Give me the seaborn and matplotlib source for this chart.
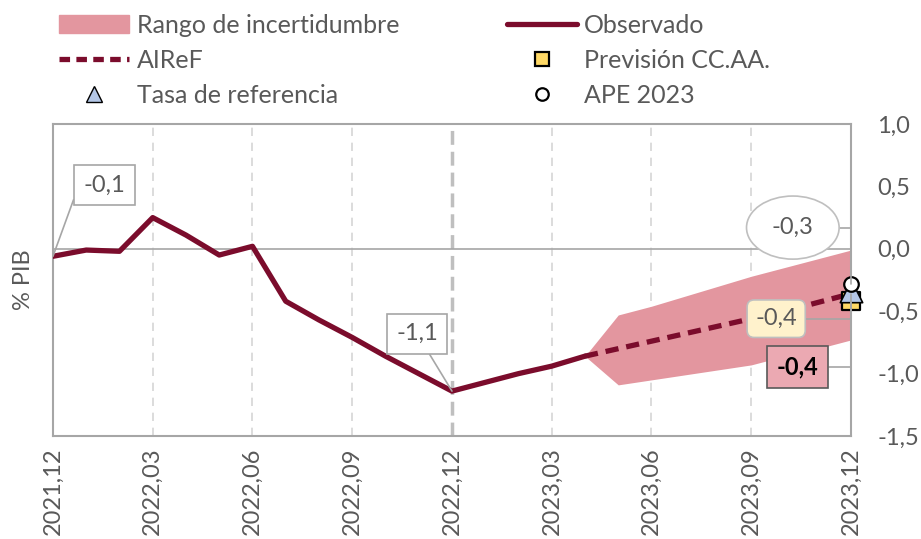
import matplotlib
matplotlib.use("Agg")
import matplotlib.pyplot as plt
import seaborn as sns
import pandas as pd
from matplotlib.lines import Line2D
from matplotlib.patches import Patch

# months 0..24 = 2021-12 .. 2023-12
months = list(range(25))
tick_labels = ["2021,12", "2022,03", "2022,06", "2022,09", "2022,12",
               "2023,03", "2023,06", "2023,09", "2023,12"]

observed = [-0.06, -0.01, -0.02, 0.25, 0.11, -0.05, 0.02, -0.42, -0.57,
            -0.71, -0.86, -1.00, -1.14, -1.07, -1.00, -0.94, -0.86]
airef = [-0.86, -0.80, -0.74, -0.68, -0.62, -0.56, -0.50, -0.43, -0.36]
band_low = [-0.86, -1.09, -1.05, -1.01, -0.97, -0.93, -0.86, -0.80, -0.73]
band_high = [-0.86, -0.53, -0.46, -0.38, -0.30, -0.22, -0.15, -0.08, -0.01]
ccaa = -0.42
tasa_ref = -0.34
ape = -0.28

RED = "#7B0C2C"
PINK = "#E3969F"
GREY = "#595959"

sns.set_style("white")
plt.rcParams["font.family"] = ["Lato", "DejaVu Sans"]

obs_df = pd.DataFrame({"mes": months[:len(observed)], "valor": observed})
fc_df = pd.DataFrame({"mes": months[16:], "valor": airef,
                      "low": band_low, "high": band_high})

fig = plt.figure(figsize=(9.21, 5.39), dpi=100)
ax = fig.add_axes([0.0575, 0.191, 0.8665, 0.579])

ax.fill_between(fc_df["mes"], fc_df["low"], fc_df["high"], color=PINK, lw=0, zorder=1)
ax.axhline(0, color="#A6A6A6", lw=1.2, zorder=1)
for m in [3, 6, 9, 15, 18, 21]:
    ax.axvline(m, color="#D6D6D6", lw=1.2, ls=(0, (5, 4)), zorder=0)
ax.axvline(12, color="#BFBFBF", lw=2.5, ls=(0, (4, 2)), zorder=0)

sns.lineplot(data=obs_df, x="mes", y="valor", color=RED, lw=3.8, ax=ax, zorder=3)
sns.lineplot(data=fc_df, x="mes", y="valor", color=RED, lw=3.8, ax=ax, zorder=3,
             linestyle=(0, (2.5, 1.5)))

ax.scatter([24], [ccaa], marker="s", s=150, color="#FFD966", edgecolor="black", lw=1.6,
           zorder=5, clip_on=False)
ax.scatter([24], [tasa_ref], marker="^", s=260, color="#B4C7E7", edgecolor="black", lw=1.2,
           zorder=6, clip_on=False)
ax.scatter([24], [ape], marker="o", s=110, color="white", edgecolor="black", lw=1.6,
           zorder=7, clip_on=False)

ax.set_xlim(0, 24)
ax.set_ylim(-1.5, 1.0)
ax.set_xticks(range(0, 25, 3))
ax.set_xticklabels(tick_labels, rotation=90, fontsize=17, color=GREY)
ax.set_yticks([-1.5, -1.0, -0.5, 0.0, 0.5, 1.0])
ax.set_yticklabels(["-1,5", "-1,0", "-0,5", "0,0", "0,5", "1,0"], fontsize=17, color=GREY)
ax.yaxis.tick_right()
ax.tick_params(axis="y", length=0, pad=19)
ax.tick_params(axis="x", length=0, pad=8)
ax.set_xlabel("")
ax.set_ylabel("% PIB", fontsize=17, color=GREY, labelpad=14)
for s in ax.spines.values():
    s.set_color("#A6A6A6")
    s.set_linewidth(1.5)

# annotations
def note(txt, xy, xytext, box, weight="normal", color=GREY, conn="angle,angleA=0,angleB=90,rad=0"):
    ax.annotate(txt, xy=xy, xytext=xytext, textcoords="data", ha="center", va="center",
                fontsize=17, color=color, fontweight=weight, bbox=box, zorder=8,
                arrowprops=dict(arrowstyle="-", color="#A6A6A6", lw=1.2,
                                connectionstyle=conn, shrinkA=0, shrinkB=0))

note("-0,1", (0, observed[0]), (1.55, 0.51),
     dict(boxstyle="square,pad=0.4", fc="white", ec="#A6A6A6", lw=1.2),
     conn="angle,angleA=0,angleB=70,rad=0")
note("-1,1", (12, observed[12]), (10.95, -0.68),
     dict(boxstyle="square,pad=0.4", fc="white", ec="#A6A6A6", lw=1.2), conn="arc3")
note("-0,3", (24, ape), (22.25, 0.17),
     dict(boxstyle="ellipse,pad=0.5", fc="white", ec="#BFBFBF", lw=1.2))
note("-0,4", (24, ccaa), (21.75, -0.56),
     dict(boxstyle="round,pad=0.35,rounding_size=0.3", fc="#FFF2CC", ec="#BFBFBF", lw=1.2))
note("-0,4", (24, airef[-1]), (22.4, -0.95),
     dict(boxstyle="square,pad=0.4", fc="#EBA9B2", ec=GREY, lw=1.2),
     weight="bold", color="black")

handles = [
    Patch(color=PINK, label="Rango de incertidumbre"),
    Line2D([], [], color=RED, lw=3.8, ls=(0, (2, 1.2)), label="AIReF"),
    Line2D([], [], ls="", marker="^", ms=12, mfc="#B4C7E7", mec="black", label="Tasa de referencia"),
    Line2D([], [], color=RED, lw=3.8, label="Observado"),
    Line2D([], [], ls="", marker="s", ms=10, mfc="#FFD966", mec="black", mew=1.6, label="Previsión CC.AA."),
    Line2D([], [], ls="", marker="o", ms=9, mfc="white", mec="black", mew=1.6, label="APE 2023"),
]
leg = fig.legend(handles=handles, ncol=2, loc="upper left", bbox_to_anchor=(0.040, 1.016),
                 frameon=False, fontsize=18, handlelength=2.8, handletextpad=0.3,
                 columnspacing=4.3, labelspacing=0.48)
for t in leg.get_texts():
    t.set_color(GREY)

fig.savefig("out.png", dpi=100)
